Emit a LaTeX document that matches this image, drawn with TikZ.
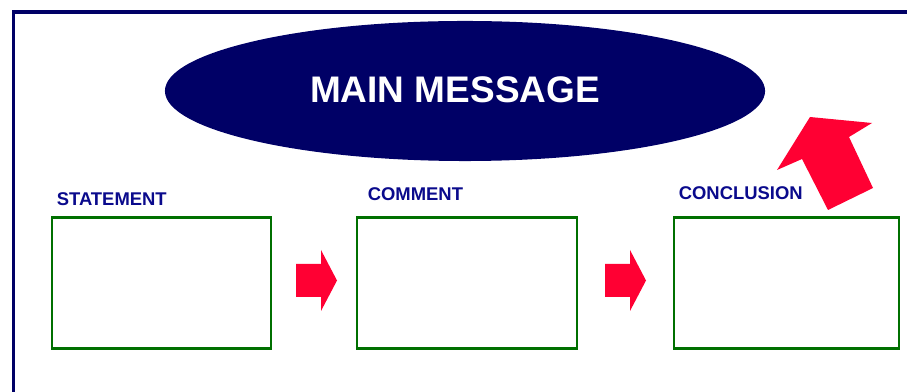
\documentclass[tikz,border=0pt]{standalone}
\usepackage{fontspec}
\setmainfont{Liberation Sans}
\usetikzlibrary{positioning, shapes.geometric, calc}
\definecolor{cnavy}{HTML}{000066}
\definecolor{clabel}{HTML}{0A0A8C}
\definecolor{cgreen}{HTML}{007000}
\definecolor{cred}{HTML}{FF0033}
\tikzset{
  every picture/.style={line width=1.2pt},
  frame/.style={draw=cnavy, line width=2.8pt},
  msg/.style={ellipse, fill=cnavy, minimum width=15cm, minimum height=3.5cm, inner sep=0pt},
  msgtext/.style={text=white, font=\fontsize{26.3}{30}\selectfont\bfseries, inner sep=0pt},
  box/.style={draw=cgreen, line width=1.9pt, minimum height=3.275cm, inner sep=0pt},
  head/.style={text=clabel, font=\fontsize{13.1}{15}\selectfont\bfseries, inner sep=0pt, anchor=base west},
  rarrow/.pic={\fill[cred] (-20.5,-16.5) -- (4.5,-16.5) -- (4.5,-30.5) -- (20.5,0) -- (4.5,30.5) -- (4.5,16.5) -- (-20.5,16.5) -- cycle;},
}

\begin{document}
\begin{tikzpicture}[x=0.025cm, y=-0.025cm]
  \clip (0,0) rectangle (907,392);
  \draw[frame] (13.5,420) |- (940,12);
  % main message
  \node[msg] (msg) at (465,91) {};
  \node[msgtext] (msgtxt) at (455,90) {MAIN MESSAGE};
  % the three steps
  \node[box, minimum width=5.475cm] (stat) at (161.5,283) {};
  \node[box, minimum width=5.5cm] (comm) at (467,283) {};
  \node[box, minimum width=5.625cm] (conc) at (786.5,283) {};
  \node[head] (stathead) at (56,206) {STATEMENT};
  \node[head] (commhead) at (367,201) {COMMENT};
  \node[head] (conchead) at (678,200) {CONCLUSION};
  % block arrows
  \pic at (316.5,280.5) {rarrow};
  \pic at (625.5,280.5) {rarrow};
  \fill[cred] (810,117) -- (872,123) -- (849,137) -- (873,188) -- (828,210) -- (802,159) -- (777,170) -- cycle;
\end{tikzpicture}
\end{document}
